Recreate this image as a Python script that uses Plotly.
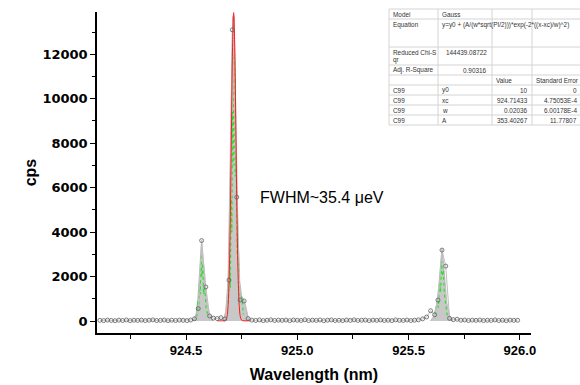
import plotly.graph_objects as go

# ---------------- data ----------------
wavelength = [924.113, 924.130, 924.147, 924.164, 924.181, 924.198, 924.215, 924.232, 924.249, 924.266,
              924.283, 924.300, 924.317, 924.334, 924.351, 924.368, 924.385, 924.402, 924.419, 924.436,
              924.453, 924.470, 924.487, 924.504, 924.521, 924.538, 924.555, 924.570, 924.589, 924.606,
              924.623, 924.640, 924.657, 924.674, 924.693, 924.708, 924.728, 924.743, 924.761, 924.779,
              924.796, 924.813, 924.830, 924.847, 924.864, 924.881, 924.898, 924.915, 924.932, 924.949,
              924.966, 924.983, 925.000, 925.017, 925.034, 925.051, 925.068, 925.085, 925.102, 925.119,
              925.136, 925.153, 925.170, 925.187, 925.204, 925.221, 925.238, 925.255, 925.272, 925.289,
              925.306, 925.323, 925.340, 925.357, 925.374, 925.391, 925.408, 925.425, 925.442, 925.459,
              925.476, 925.493, 925.510, 925.527, 925.544, 925.563, 925.581, 925.599, 925.617, 925.632,
              925.650, 925.667, 925.684, 925.701, 925.718, 925.735, 925.752, 925.769, 925.786, 925.803,
              925.820, 925.837, 925.854, 925.871, 925.888, 925.905, 925.922, 925.939, 925.956, 925.973,
              925.990]
cps = [30, 18, 42, 25, 12, 38, 22, 47, 15, 33,
       27, 40, 19, 35, 50, 21, 28, 44, 16, 36,
       24, 39, 31, 20, 45, 100, 560, 3620, 1530, 225,
       130, 110, 150, 90, 1840, 13100, 5570, 945, 900, 110,
       40, 26, 48, 18, 34, 52, 23, 37, 29, 41,
       17, 46, 32, 24, 55, 20, 38, 27, 43, 14,
       36, 49, 22, 31, 19, 44, 28, 53, 25, 35,
       41, 16, 39, 27, 47, 23, 34, 18, 50, 30,
       26, 43, 21, 37, 52, 95, 180, 460, 280, 940,
       3190, 2470, 120, 60, 80, 35, 45, 22, 38, 29,
       44, 19, 33, 26, 48, 21, 36, 15, 40, 28,
       32]

# envelope of the many overlaid spectra (grey band)
env_left_x = [924.532, 924.545, 924.553, 924.560, 924.566, 924.570, 924.575, 924.582, 924.592, 924.605, 924.622]
env_left_y = [0, 300, 1000, 2000, 3000, 3650, 3000, 2000, 1000, 300, 0]
env_main_x = [924.668, 924.680, 924.689, 924.697, 924.704, 924.710, 924.716, 924.722, 924.727, 924.733, 924.741, 924.750, 924.762, 924.770, 924.782]
env_main_y = [0, 500, 2000, 6000, 11000, 13700, 13700, 11000, 7500, 4000, 1800, 1100, 900, 600, 0]
env_right_x = [925.598, 925.612, 925.625, 925.635, 925.645, 925.650, 925.656, 925.664, 925.672, 925.684, 925.698]
env_right_y = [0, 200, 700, 1500, 2700, 3250, 2700, 1600, 800, 250, 0]

# green dashed traces inside the peaks
green_x = [924.548, 924.553, 924.557, 924.561, 924.564, 924.567, 924.571, 924.575, 924.579, 924.584, 924.590, 924.597, None,
           924.690, 924.695, 924.699, 924.703, 924.706, 924.709, 924.712, 924.715, 924.718, 924.721, 924.725, 924.730, 924.736, 924.742, 924.750, 924.758, None,
           925.620, 925.628, 925.634, 925.639, 925.644, 925.648, 925.652, 925.656, 925.661, 925.667, 925.674]
green_y = [200, 900, 500, 1800, 1200, 3000, 2000, 2600, 1200, 1500, 600, 300, None,
           800, 2500, 1500, 5500, 4000, 9400, 7000, 12000, 9000, 6500, 7500, 3000, 2500, 900, 1100, 300, None,
           300, 900, 600, 1700, 1300, 2700, 2000, 2300, 1200, 800, 200]

# Gauss fit curve
fit_x = [924.640, 924.669, 924.674, 924.679, 924.684, 924.689, 924.694, 924.699, 924.704, 924.709, 924.714,
         924.719, 924.724, 924.729, 924.734, 924.739, 924.744, 924.749, 924.754, 924.790]
fit_y = [10, 10, 16, 47, 190, 690, 2020, 4690, 8570, 12290, 13870,
         12290, 8570, 4690, 2020, 690, 190, 47, 16, 10]

fwhm_text = "FWHM~35.4 \u03bceV"

y_ticks = [0, 2000, 4000, 6000, 8000, 10000, 12000]
y_ticktext = ["0", "2000", "4000", "6000", "8000", "10000", "12000"]
x_ticks = [924.5, 925.0, 925.5, 926.0]
x_ticktext = ["924.5", "925.0", "925.5", "926.0"]

# fit report table
tbl_col1 = ["Model", "Equation", "Reduced Chi-S", "Adj. R-Square", "", "C99", "C99", "C99", "C99"]
tbl_col2 = ["Gauss", "y=y0 + (A/(w*sqrt(PI/2)))*exp(-2*((x-xc)/w)^2)", "144439.08722", "0.90316", "", "y0", "xc", "w", "A"]
tbl_col3 = ["", "", "", "", "Value", "10", "924.71433", "0.02036", "353.40267"]
tbl_col4 = ["", "", "", "", "Standard Error", "0", "4.75053E-4", "6.00178E-4", "11.77807"]

# ---------------- figure ----------------
fig = go.Figure()

for ex, ey in [(env_left_x, env_left_y), (env_main_x, env_main_y), (env_right_x, env_right_y)]:
    fig.add_trace(go.Scatter(x=ex, y=ey, mode="lines", fill="tozeroy",
                             fillcolor="#c8c8c8", line=dict(color="#b0b0b0", width=0.8),
                             showlegend=False, hoverinfo="skip"))

fig.add_trace(go.Scatter(x=green_x, y=green_y, mode="lines",
                         line=dict(color="#2ee02e", width=1.2, dash="dot"),
                         showlegend=False, connectgaps=False))

fig.add_trace(go.Scatter(x=wavelength, y=cps, mode="lines",
                         line=dict(color="#c0c0c0", width=1), showlegend=False))

fig.add_trace(go.Scatter(x=fit_x, y=fit_y, mode="lines", line_shape="spline",
                         line=dict(color="#ff1a1a", width=1.0), showlegend=False))

fig.add_trace(go.Scatter(x=wavelength, y=cps, mode="markers",
                         marker=dict(symbol="circle-open", size=4, color="#606060",
                                     line=dict(width=0.8, color="#606060")),
                         showlegend=False))

fig.add_annotation(x=924.823, y=5550, xref="x", yref="y", text=fwhm_text, showarrow=False,
                   xanchor="left", yanchor="middle",
                   font=dict(family="Liberation Sans, Arial", size=16, color="black"))

# ---- table (pixel positions converted to paper coords) ----
L, R, T, B = 97, 531, 12, 333
def px(xp):
    return (xp - L) / (R - L)
def py(yp):
    return (B - yp) / (B - T)

row_edges = [9, 19, 47, 65, 75, 85, 95, 105, 115, 125]
col_edges = [389, 438, 492, 532, 590]
row_text_y = [14, 25, 52, 70, 80, 90, 100, 110, 120]

fig.add_shape(type="rect", xref="paper", yref="paper",
              x0=px(389), x1=px(590), y0=py(125), y1=py(9),
              fillcolor="white", line=dict(width=0), layer="above")
for ry in row_edges:
    fig.add_shape(type="line", xref="paper", yref="paper", x0=px(389), x1=px(590),
                  y0=py(ry), y1=py(ry), line=dict(color="#d4d4d4", width=1), layer="above")
for cx in col_edges[:-1]:
    fig.add_shape(type="line", xref="paper", yref="paper", x0=px(cx), x1=px(cx),
                  y0=py(125), y1=py(9), line=dict(color="#d4d4d4", width=1), layer="above")

tfont = dict(family="Liberation Sans, Arial", size=6.4, color="#333333")
def tann(x, y, s, anchor):
    if s:
        fig.add_annotation(x=px(x), y=py(y), xref="paper", yref="paper", text=s,
                           showarrow=False, xanchor=anchor, yanchor="middle", font=tfont)

numeric2 = {"144439.08722", "0.90316"}
for i in range(len(tbl_col1)):
    y = row_text_y[i]
    tann(391, y, tbl_col1[i], "left")
    s2 = tbl_col2[i]
    if s2 in numeric2:
        tann(489, y, s2, "right")
    else:
        tann(440, y, s2, "left")
    s3 = tbl_col3[i]
    if s3 == "Value":
        tann(494, y, s3, "left")
    else:
        tann(530, y, s3, "right")
    s4 = tbl_col4[i]
    if s4 == "Standard Error":
        tann(534, y, s4, "left")
    else:
        tann(579, y, s4, "right")
tann(391, 60, "qr", "left")

fig.update_layout(
    width=580, height=385,
    margin=dict(l=L, r=580 - R, t=T, b=385 - B),
    paper_bgcolor="white", plot_bgcolor="white",
    showlegend=False,
)
fig.update_xaxes(
    range=[924.1, 926.05], tickvals=x_ticks, ticktext=x_ticktext,
    ticks="outside", ticklen=5, tickwidth=1.2, tickcolor="black",
    showline=True, linecolor="black", linewidth=1.5, showgrid=False, zeroline=False,
    minor=dict(tickvals=[924.25, 924.75, 925.25, 925.75], ticks="outside", ticklen=4,
               tickwidth=1.2, tickcolor="black"),
    tickfont=dict(family="Liberation Sans, Arial", size=13, color="black", weight="bold"),
    automargin=False,
    title=dict(text="Wavelength (nm)", standoff=11,
               font=dict(family="Liberation Sans, Arial", size=16, color="black", weight="bold")),
)
fig.update_yaxes(
    range=[-540, 13900], tickvals=y_ticks, ticktext=y_ticktext,
    ticks="outside", ticklen=5, tickwidth=1.2, tickcolor="black",
    showline=True, linecolor="black", linewidth=1.5, showgrid=False, zeroline=False,
    minor=dict(tickvals=[1000, 3000, 5000, 7000, 9000, 11000, 13000], ticks="outside",
               ticklen=3, tickwidth=1.2, tickcolor="black"),
    tickfont=dict(family="DejaVu Sans", size=13, color="black", weight="bold"),
    automargin=False,
    title=dict(text="cps", standoff=2,
               font=dict(family="Liberation Sans, Arial", size=16, color="black", weight="bold")),
)

fig.write_html("out.html")
